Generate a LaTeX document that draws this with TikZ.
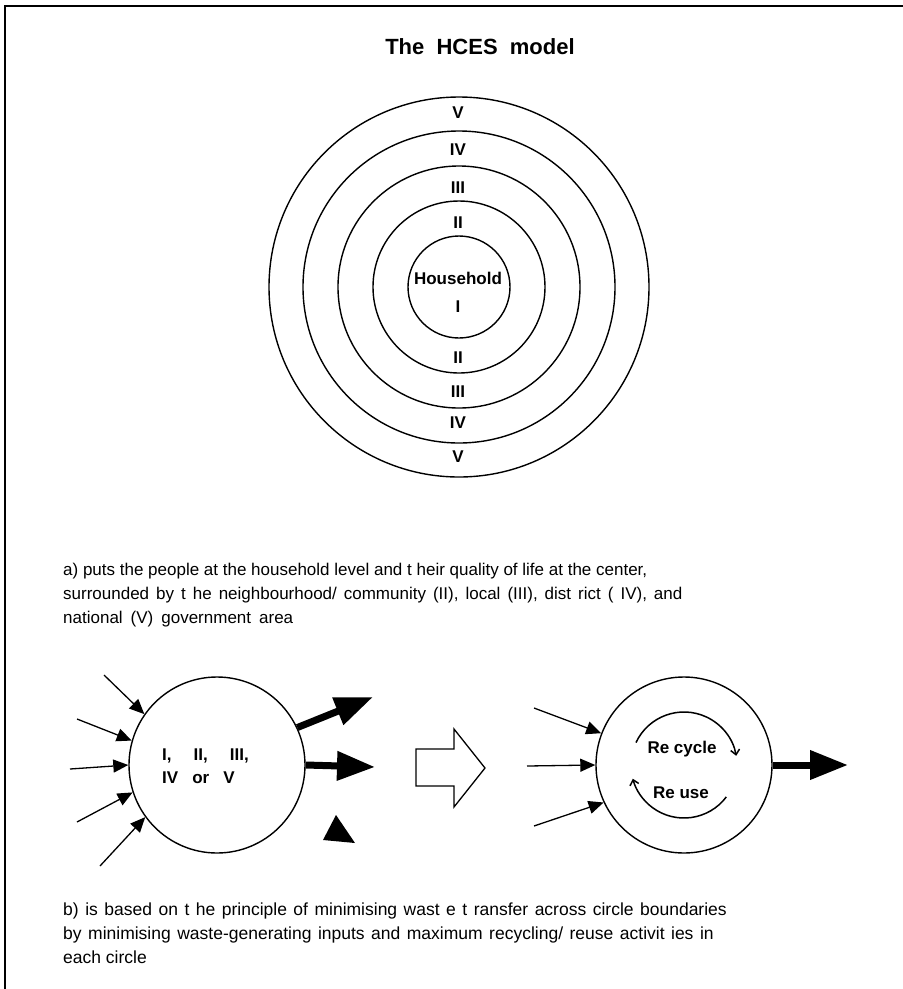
\documentclass[tikz,border=0pt]{standalone}
\usepackage{fontspec}
\setmainfont{Liberation Sans}
\usetikzlibrary{arrows.meta, positioning}
\tikzstyle{ring}      = [draw, circle, line width=1.4pt, inner sep=0pt]
\tikzstyle{lbl}       = [font=\fontsize{17}{20}\selectfont\bfseries, inner sep=0pt]
\tikzstyle{txt}       = [font=\fontsize{17}{24}\selectfont, align=left, anchor=north west, inner sep=0pt]
\tikzstyle{inarrow}   = [line width=1.3pt, -{Triangle[length=15pt,width=13pt]}]
\tikzstyle{outarrow}  = [line width=7pt, -{Triangle[length=38pt,width=28pt]}]
\tikzstyle{cyclearrow}= [line width=1.5pt, -{Straight Barb[length=5pt,width=9pt]}]

\begin{document}
\begin{tikzpicture}[x=1pt, y=-1pt]
\useasboundingbox (0,0) rectangle (903,989);
\draw[line width=2pt] (5,6) rectangle (920,1000);

\node[font=\fontsize{22}{26}\selectfont\bfseries] (T) at (480,47) {The\ \ HCES\ \ model};

% concentric circles
\node[ring, minimum size=380pt] (C5) at (459,287) {};
\node[ring, minimum size=312pt] (C4) at (459,287) {};
\node[ring, minimum size=242pt] (C3) at (459,287) {};
\node[ring, minimum size=172pt] (C2) at (459,287) {};
\node[ring, minimum size=102pt] (C1) at (459,287) {};

\node[lbl] (V5a) at (458,113) {V};
\node[lbl] (V4a) at (458,150) {IV};
\node[lbl] (V3a) at (458,188) {III};
\node[lbl] (V2a) at (458,223) {II};
\node[lbl] (H)   at (458,278) {Household};
\node[lbl] (V1)  at (458,307) {I};
\node[lbl] (V2b) at (458,358) {II};
\node[lbl] (V3b) at (458,392) {III};
\node[lbl] (V4b) at (458,423) {IV};
\node[lbl] (V5b) at (458,457) {V};

\node[txt] (A) at (63,563) {a) puts the people at the household level and t heir quality of life at the center,\\
\spaceskip=7pt surrounded by t he neighbourhood/ community (II), local (III), dist rict ( IV), and\\
\spaceskip=8pt national (V) government area};

% left circle
\node[ring, minimum size=176pt] (L) at (217,765) {};
\node[lbl, align=left, anchor=west, font=\fontsize{17}{23}\selectfont\bfseries] (LT) at (162,766) {I,\hspace{22pt}II,\hspace{22pt}III,\\IV\hspace{14pt}or\hspace{14pt}V};

\coordinate (i1) at (104,675);
\coordinate (i2) at (77,719);
\coordinate (i3) at (70,769);
\coordinate (i4) at (77,822);
\coordinate (i5) at (100,866);
\draw[inarrow] (i1) -- (L.145);
\draw[inarrow] (i2) -- (L.164);
\draw[inarrow] (i3) -- (L.180);
\draw[inarrow] (i4) -- (L.198);
\draw[inarrow] (i5) -- (L.216);

\coordinate (o1) at (373,697);
\coordinate (o2) at (375,767);
\draw[outarrow] (L.25) -- (o1);
\draw[outarrow] (L.0) -- (o2);
\fill (336,815) -- (323,840) -- (355,843) -- cycle;

% block arrow
\draw[line width=1.3pt] (416,749) -- (454,749) -- (454,729) -- (485,768) -- (454,807) -- (454,786) -- (416,786) -- cycle;

% right circle
\node[ring, minimum size=176pt] (R) at (684,765) {};
\coordinate (j1) at (534,708);
\coordinate (j2) at (527,766);
\coordinate (j3) at (534,826);
\draw[inarrow] (j1) -- (R.159);
\draw[inarrow] (j2) -- (R.180);
\draw[inarrow] (j3) -- (R.205);
\coordinate (o3) at (848,765);
\draw[outarrow] (R.0) -- (o3);

\draw[cyclearrow] (R) ++(-155:53) arc[start angle=-155, end angle=-10, radius=53];
\draw[cyclearrow] (R) ++(37:53) arc[start angle=37, end angle=165, radius=53];
\node[lbl] (RC) at (682,749) {Re cycle};
\node[lbl] (RU) at (681,793) {Re use};

\node[txt, font=\fontsize{17.5}{24}\selectfont] (B) at (63,903) {\spaceskip=6.5pt b) is based on t he principle of minimising wast e t ransfer across circle boundaries\\
\spaceskip=6.5pt by minimising waste-generating inputs and maximum recycling/ reuse activit ies in\\
each circle};
\end{tikzpicture}
\end{document}
